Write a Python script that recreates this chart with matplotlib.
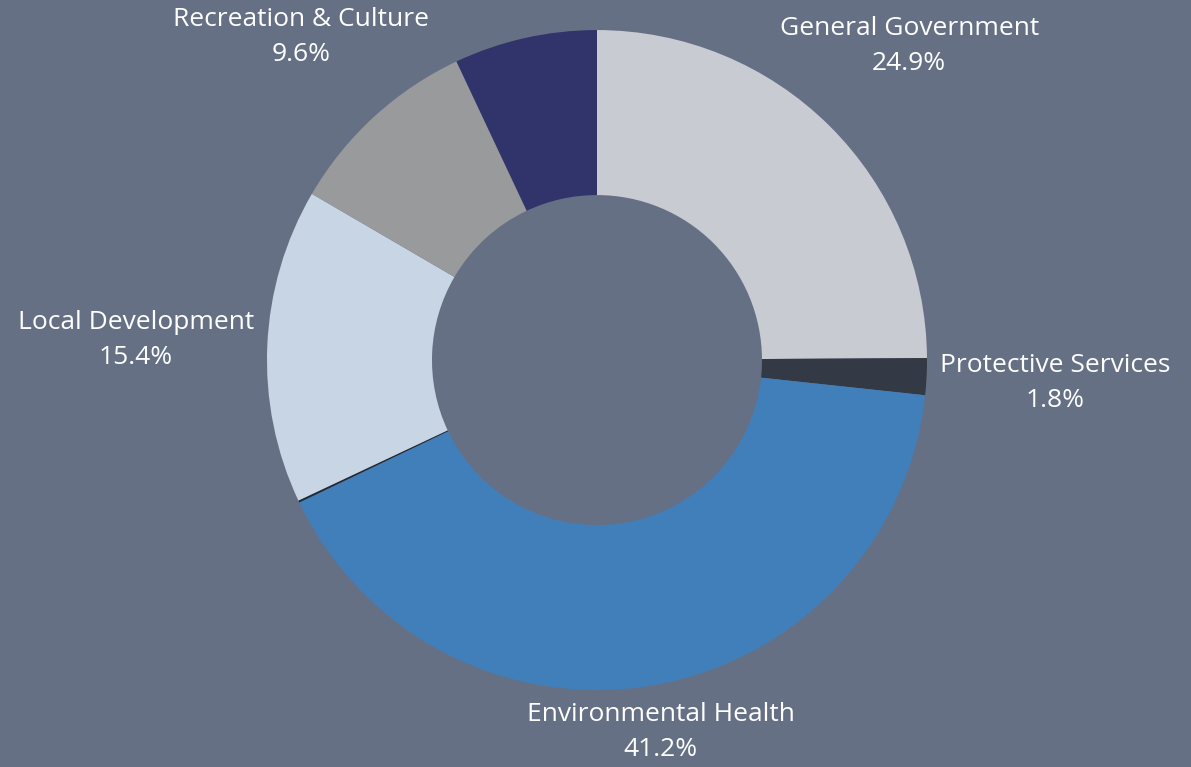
import numpy as np
import matplotlib.pyplot as plt

# slices, clockwise from 12 o'clock
names = ['General Government', 'Protective Services', 'Environmental Health',
         '', 'Local Development', 'Recreation & Culture', '']
shares = [24.9, 1.8, 41.2, 0.1, 15.4, 9.6, 7.0]
colors = ['#c9cbd3', '#343a45', '#417fba', '#222831', '#c8d5e5', '#999a9c', '#30346b']
bg = '#667084'

plt.rcParams['font.family'] = ['Open Sans', 'DejaVu Sans']

fig = plt.figure(figsize=(11.91, 7.67), dpi=100, facecolor=bg)
ax = fig.add_axes([0, 0, 1, 1])
ax.set_facecolor(bg)

wedges, _ = ax.pie(shares, colors=colors, startangle=90, counterclock=False,
                   radius=1.0, wedgeprops=dict(width=0.5, linewidth=0))
ax.set_xlim(-1.809, 1.8)
ax.set_ylim(-1.233, 1.091)
ax.axis('off')

fig.canvas.draw()
rend = fig.canvas.get_renderer()
inv = ax.transData.inverted()
for w, name, val in zip(wedges, names, shares):
    if not name:
        continue
    mid = np.deg2rad((w.theta1 + w.theta2) / 2)
    dx, dy = np.cos(mid), np.sin(mid)
    t = ax.text(0, 0, f'{name}\n{val}%', ha='center', va='center',
                color='white', fontsize=19, linespacing=1.52)
    bb = t.get_window_extent(rend)
    (x0, y0), (x1, y1) = inv.transform([[bb.x0, bb.y0], [bb.x1, bb.y1]])
    hw, hh = (x1 - x0) / 2, (y1 - y0) / 2
    # push the label out until its box clears the ring
    r = 1.04 + hw * abs(dx) + 0.4 * hh * abs(dy)
    t.set_position((r * dx, r * dy))

fig.savefig('out.png', dpi=100, facecolor=bg)
